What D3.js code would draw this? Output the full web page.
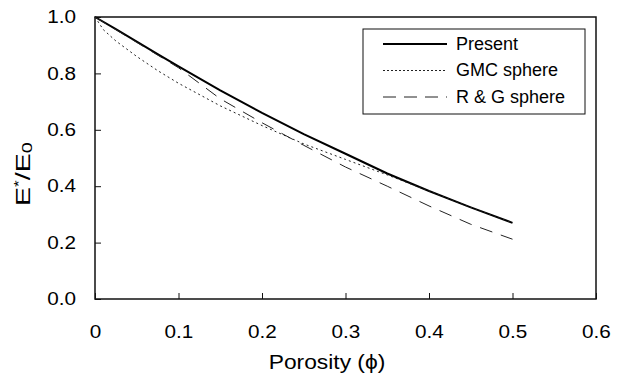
<!DOCTYPE html>
<html>
<head>
<meta charset="utf-8">
<script src="https://cdn.jsdelivr.net/npm/d3@7"></script>
<style>
  body { margin: 0; background: #fff; }
  svg { display: block; font-family: "Liberation Sans", Arial, sans-serif; }
</style>
</head>
<body>
<svg id="chart" width="624" height="389"></svg>
<script>
// porosity values for each curve
const phiPresent = [0, 0.025, 0.05, 0.075, 0.1, 0.15, 0.2, 0.25, 0.3, 0.35, 0.4, 0.45, 0.5];
const present    = [1.0, 0.957, 0.913, 0.868, 0.825, 0.74, 0.66, 0.585, 0.515, 0.445, 0.383, 0.325, 0.27];

const phiGmc = [0, 0.01, 0.025, 0.05, 0.075, 0.1, 0.15, 0.2, 0.25, 0.3, 0.35, 0.4, 0.45, 0.5];
const gmc    = [1.0, 0.955, 0.915, 0.86, 0.81, 0.765, 0.685, 0.615, 0.55, 0.495, 0.44, 0.383, 0.325, 0.27];

const phiRg = [0, 0.05, 0.1, 0.15, 0.2, 0.25, 0.3, 0.35, 0.4, 0.45, 0.5];
const rg    = [1.0, 0.91, 0.82, 0.71, 0.625, 0.545, 0.468, 0.40, 0.33, 0.265, 0.212];

const xTicks = [0, 0.1, 0.2, 0.3, 0.4, 0.5, 0.6];
const yTicks = [0, 0.2, 0.4, 0.6, 0.8, 1.0];
const seriesNames = ["Present", "GMC sphere", "R & G sphere"];

const svg = d3.select("#chart");
const plotL = 95, plotR = 596, plotT = 17, plotB = 299;

const x = d3.scaleLinear().domain([0, 0.6]).range([plotL, plotR]);
const y = d3.scaleLinear().domain([0, 1]).range([plotB, plotT]);

// the original lettering is a bit wider than Liberation Sans
function widen(sel, k) {
  sel.each(function () {
    const w = this.getComputedTextLength();
    d3.select(this).attr("textLength", w * k).attr("lengthAdjust", "spacingAndGlyphs");
  });
}

// plot frame
svg.append("rect")
  .attr("x", plotL).attr("y", plotT)
  .attr("width", plotR - plotL).attr("height", plotB - plotT)
  .attr("fill", "none").attr("stroke", "#111").attr("stroke-width", 1.5);

// axes with inward ticks
const xAxis = svg.append("g")
  .attr("transform", `translate(0,${plotB})`)
  .call(d3.axisBottom(x).tickValues(xTicks).tickSizeInner(-6).tickSizeOuter(0)
    .tickPadding(26).tickFormat(d => d === 0 ? "0" : d3.format(".1f")(d)));
const yAxis = svg.append("g")
  .attr("transform", `translate(${plotL},0)`)
  .call(d3.axisLeft(y).tickValues(yTicks).tickSizeInner(-6).tickSizeOuter(0)
    .tickPadding(19).tickFormat(d3.format(".1f")));

[xAxis, yAxis].forEach(g => {
  g.select(".domain").remove();
  g.selectAll("line").attr("stroke", "#111");
  g.selectAll("text").attr("font-size", 18).attr("fill", "#000")
    .attr("font-family", "'Liberation Sans', Arial, sans-serif")
    .call(widen, 1.15);
});

// axis titles
svg.append("text")
  .attr("x", 327).attr("y", 369)
  .attr("text-anchor", "middle").attr("font-size", 20)
  .text("Porosity (\u03d5)")
  .call(widen, 1.14);

const yl = svg.append("text")
  .attr("transform", "translate(30,174) rotate(-90)")
  .attr("text-anchor", "middle").attr("font-size", 20);
yl.append("tspan").text("E");
yl.append("tspan").attr("dy", -7).attr("font-size", 12).text("*");
yl.append("tspan").attr("dy", 7).text("/E");
yl.append("tspan").attr("dy", 2).attr("font-size", 14).text("0");
yl.attr("textLength", 64).attr("lengthAdjust", "spacingAndGlyphs");

// curves
const line = d3.line().x(d => x(d[0])).y(d => y(d[1]));
const curves = [
  { pts: d3.zip(phiPresent, present), width: 2, dash: null, color: "#000" },
  { pts: d3.zip(phiGmc, gmc), width: 1, dash: "2,3", color: "#222" },
  { pts: d3.zip(phiRg, rg), width: 1, dash: "13,9", color: "#222" }
];

svg.selectAll("path.curve")
  .data(curves)
  .join("path")
  .attr("class", "curve")
  .attr("d", d => line(d.pts))
  .attr("fill", "none")
  .attr("stroke", d => d.color)
  .attr("stroke-width", d => d.width)
  .attr("stroke-dasharray", d => d.dash);

// legend
const lg = svg.append("g");
lg.append("rect")
  .attr("x", 363).attr("y", 29).attr("width", 222).attr("height", 85)
  .attr("fill", "#fff").attr("stroke", "#111").attr("stroke-width", 1);

const legendDash = [null, "2,2", "13,8"];
seriesNames.forEach((name, i) => {
  const yy = 44 + i * 26.5;
  lg.append("line")
    .attr("x1", 383).attr("x2", 447).attr("y1", yy).attr("y2", yy)
    .attr("stroke", curves[i].color)
    .attr("stroke-width", curves[i].width)
    .attr("stroke-dasharray", legendDash[i]);
  lg.append("text")
    .attr("x", 456).attr("y", yy + 5.5)
    .attr("font-size", 18)
    .text(name);
});
</script>
</body>
</html>
